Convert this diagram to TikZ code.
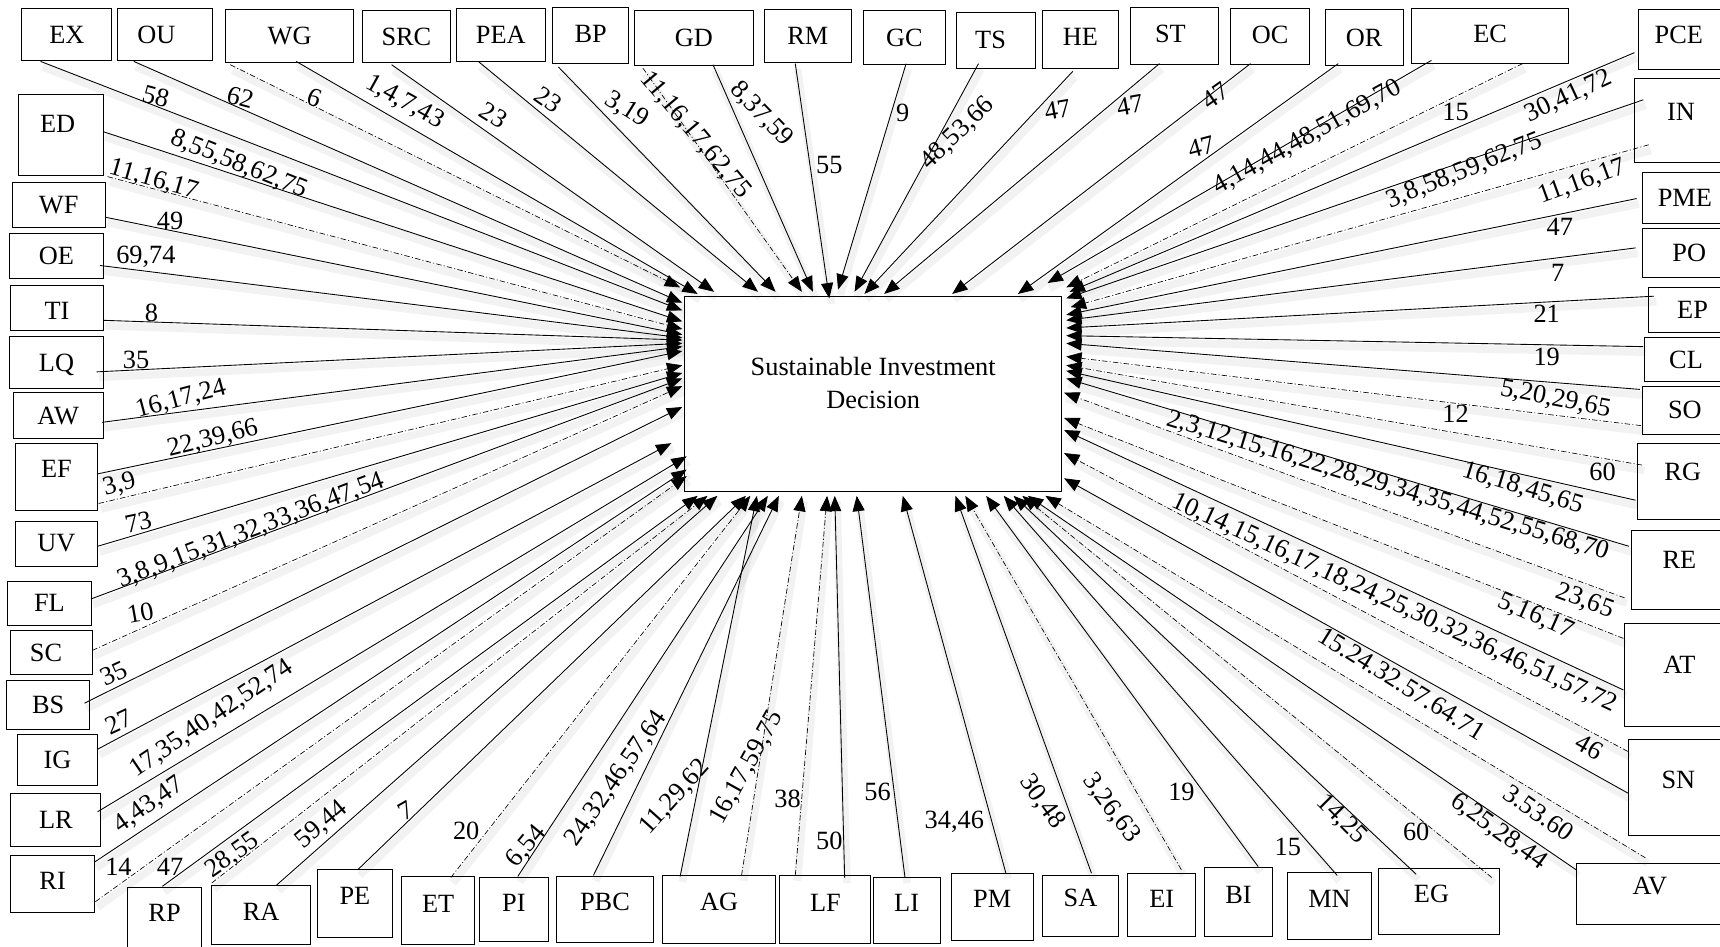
\documentclass[tikz,border=0pt]{standalone}
\usepackage{fontspec}
\setmainfont{Liberation Serif}
\usetikzlibrary{arrows.meta}

\begin{document}
\begin{tikzpicture}[x=1pt, y=-1pt, font=\fontsize{24}{30}\selectfont]
  \tikzstyle{fac}=[draw, line width=0.9pt, inner sep=0pt]
  \tikzstyle{num}=[inner sep=0pt]
  \tikzstyle{lnk}=[line width=0.8pt, -{Triangle[length=14pt, width=11pt]},
    preaction={draw, draw opacity=0.05, line width=7pt, solid, -,
      transform canvas={xshift=2pt, yshift=-5pt}}]
  \tikzstyle{dlnk}=[lnk, line width=0.6pt,
    dash pattern=on 5pt off 2pt on 1pt off 2pt]

  \useasboundingbox (0,0) rectangle (1568,863);

  % central box
  \node[fac, minimum width=344, minimum height=178, align=center,
    label={[yshift=10, align=center]center:Sustainable Investment\\Decision}]
    (SID) at (796,359) {};

  % top row
  \node[fac, minimum width=82, minimum height=47] (EX) at (61,31.5) {EX};
  \node[fac, minimum width=87, minimum height=47, label={[xshift=-8]center:OU}] (OU) at (150.5,31.5) {};
  \node[fac, minimum width=116, minimum height=48] (WG) at (264,33) {WG};
  \node[fac, minimum width=81, minimum height=47] (SRC) at (370.5,33.5) {SRC};
  \node[fac, minimum width=81, minimum height=48] (PEA) at (456.5,32) {PEA};
  \node[fac, minimum width=69, minimum height=51, label={[yshift=2]center:BP}] (BP) at (538.5,32.5) {};
  \node[fac, minimum width=109, minimum height=50] (GD) at (632.5,35) {GD};
  \node[fac, minimum width=79, minimum height=48] (RM) at (736.5,33) {RM};
  \node[fac, minimum width=75, minimum height=49] (GC) at (824.5,34.5) {GC};
  \node[fac, minimum width=72, minimum height=51, label={[xshift=-5]center:TS}] (TS) at (908,36.5) {};
  \node[fac, minimum width=70, minimum height=52, label={[yshift=2]center:HE}] (HE) at (985,36) {};
  \node[fac, minimum width=80, minimum height=52, label={[xshift=-4, yshift=2]center:ST}] (ST) at (1071,33) {};
  \node[fac, minimum width=72, minimum height=51, label={[yshift=2]center:OC}] (OC) at (1158,33.5) {};
  \node[fac, minimum width=71, minimum height=51] (OR) at (1243.5,34.5) {OR};
  \node[fac, minimum width=143, minimum height=50, label={[yshift=2]center:EC}] (EC) at (1358.5,33) {};
  \node[fac, minimum width=81, minimum height=54, label={[xshift=-4, yshift=4]center:PCE}] (PCE) at (1534.5,36) {};

  % right column
  \node[fac, minimum width=85, minimum height=76, label={[yshift=8]center:IN}] (IN) at (1532.5,110) {};
  \node[fac, minimum width=78, minimum height=47] (PME) at (1536,180.5) {PME};
  \node[fac, minimum width=78, minimum height=45, label={[xshift=4]center:PO}] (PO) at (1536,230.5) {};
  \node[fac, minimum width=72, minimum height=41, label={[xshift=4]center:EP}] (EP) at (1539,282.5) {};
  \node[fac, minimum width=76, minimum height=40] (CL) at (1537,328) {CL};
  \node[fac, minimum width=78, minimum height=44] (SO) at (1536,374) {SO};
  \node[fac, minimum width=82, minimum height=70, label={[yshift=9]center:RG}] (RG) at (1534,439) {};
  \node[fac, minimum width=88, minimum height=72, label={[yshift=10]center:RE}] (RE) at (1531,520) {};
  \node[fac, minimum width=94, minimum height=94, label={[xshift=3, yshift=9]center:AT}] (AT) at (1528,615) {};
  \node[fac, minimum width=90, minimum height=88, label={[yshift=7]center:SN}] (SN) at (1530,718) {};
  \node[fac, minimum width=138, minimum height=56, label={[xshift=-2, yshift=7]center:AV}] (AV) at (1506,815) {};

  % left column
  \node[fac, minimum width=77, minimum height=74, label={[xshift=-3, yshift=10]center:ED}] (ED) at (55.5,123) {};
  \node[fac, minimum width=85, minimum height=41] (WF) at (53.5,186.5) {WF};
  \node[fac, minimum width=85, minimum height=41] (OE) at (51.5,233.5) {OE};
  \node[fac, minimum width=84, minimum height=41, label={[yshift=-3]center:TI}] (TI) at (52,280.5) {};
  \node[fac, minimum width=85, minimum height=47, label={[yshift=-2]center:LQ}] (LQ) at (51.5,330.5) {};
  \node[fac, minimum width=82, minimum height=42] (AW) at (53,379) {AW};
  \node[fac, minimum width=75, minimum height=61, label={[yshift=7]center:EF}] (EF) at (51.5,434.5) {};
  \node[fac, minimum width=75, minimum height=41] (UV) at (51.5,495.5) {UV};
  \node[fac, minimum width=76, minimum height=40] (FL) at (45,550) {FL};
  \node[fac, minimum width=74, minimum height=40, label={[xshift=-5]center:SC}] (SC) at (47,595) {};
  \node[fac, minimum width=76, minimum height=45] (BS) at (44,642.5) {BS};
  \node[fac, minimum width=73, minimum height=46] (IG) at (52.5,693) {IG};
  \node[fac, minimum width=82, minimum height=49] (LR) at (51,747.5) {LR};
  \node[fac, minimum width=76, minimum height=52, label={[yshift=3]center:RI}] (RI) at (48,806) {};

  % bottom row
  \node[fac, minimum width=68, minimum height=66, label={[yshift=10]center:RP}] (RP) at (150,842) {};
  \node[fac, minimum width=90, minimum height=54, label={[yshift=3]center:RA}] (RA) at (238,834) {};
  \node[fac, minimum width=69, minimum height=62, label={[yshift=7]center:PE}] (PE) at (323.5,824) {};
  \node[fac, minimum width=67, minimum height=62, label={[yshift=6]center:ET}] (ET) at (399.5,830) {};
  \node[fac, minimum width=63, minimum height=58, label={[yshift=6]center:PI}] (PI) at (468.5,829) {};
  \node[fac, minimum width=89, minimum height=60, label={[yshift=7]center:PBC}] (PBC) at (551.5,829) {};
  \node[fac, minimum width=103, minimum height=62, label={[yshift=7]center:AG}] (AG) at (655.5,829) {};
  \node[fac, minimum width=83, minimum height=62, label={[yshift=6]center:LF}] (LF) at (752.5,829) {};
  \node[fac, minimum width=61, minimum height=60, label={[yshift=7]center:LI}] (LI) at (826.5,830) {};
  \node[fac, minimum width=75, minimum height=61, label={[yshift=7]center:PM}] (PM) at (904.5,826.5) {};
  \node[fac, minimum width=70, minimum height=56, label={[yshift=7]center:SA}] (SA) at (985,826) {};
  \node[fac, minimum width=62, minimum height=58, label={[yshift=6]center:EI}] (EI) at (1059,825) {};
  \node[fac, minimum width=62, minimum height=63, label={[yshift=7]center:BI}] (BI) at (1129,822.5) {};
  \node[fac, minimum width=76, minimum height=61, label={[yshift=6]center:MN}] (MN) at (1212,825.5) {};
  \node[fac, minimum width=110, minimum height=60, label={[xshift=-7, yshift=7]center:EG}] (EG) at (1312,822) {};

  % links from the top row
  \coordinate (ex-o) at (37,56);     \coordinate (ex-i) at (622,283);   \draw[lnk]  (ex-o) -- (ex-i);
  \coordinate (ou-o) at (122,56);    \coordinate (ou-i) at (622,276);   \draw[lnk]  (ou-o) -- (ou-i);
  \coordinate (wg1-o) at (210,59);   \coordinate (wg1-i) at (620,262);  \draw[dlnk] (wg1-o) -- (wg1-i);
  \coordinate (wg2-o) at (270,56);   \coordinate (wg2-i) at (636,268);  \draw[lnk]  (wg2-o) -- (wg2-i);
  \coordinate (src-o) at (357,59);   \coordinate (src-i) at (651,266);  \draw[lnk]  (src-o) -- (src-i);
  \coordinate (pea-o) at (436,56);   \coordinate (pea-i) at (691,266);  \draw[lnk]  (pea-o) -- (pea-i);
  \coordinate (bp-o) at (509,61);    \coordinate (bp-i) at (707,266);   \draw[lnk]  (bp-o) -- (bp-i);
  \coordinate (gd1-o) at (586,62);   \coordinate (gd1-i) at (731,266);  \draw[dlnk] (gd1-o) -- (gd1-i);
  \coordinate (gd2-o) at (650,59);   \coordinate (gd2-i) at (741,266);  \draw[lnk]  (gd2-o) -- (gd2-i);
  \coordinate (rm-o) at (725,58);    \coordinate (rm-i) at (756,272);   \draw[lnk]  (rm-o) -- (rm-i);
  \coordinate (gc-o) at (826,58);    \coordinate (gc-i) at (764,264);   \draw[lnk]  (gc-o) -- (gc-i);
  \coordinate (ts-o) at (892,58);    \coordinate (ts-i) at (779,266);   \draw[lnk]  (ts-o) -- (ts-i);
  \coordinate (he-o) at (978,65);    \coordinate (he-i) at (788,268);   \draw[lnk]  (he-o) -- (he-i);
  \coordinate (st-o) at (1057,58);   \coordinate (st-i) at (806,268);   \draw[lnk]  (st-o) -- (st-i);
  \coordinate (oc-o) at (1140,58);   \coordinate (oc-i) at (868,268);   \draw[lnk]  (oc-o) -- (oc-i);
  \coordinate (or-o) at (1220,58);   \coordinate (or-i) at (928,268);   \draw[lnk]  (or-o) -- (or-i);
  \coordinate (ec1-o) at (1305,55);  \coordinate (ec1-i) at (955,258);  \draw[lnk]  (ec1-o) -- (ec1-i);
  \coordinate (ec2-o) at (1388,58);  \coordinate (ec2-i) at (972,262);  \draw[dlnk] (ec2-o) -- (ec2-i);
  \coordinate (pce-o) at (1490,48);  \coordinate (pce-i) at (975,266);  \draw[lnk]  (pce-o) -- (pce-i);

  % links from the right column
  \coordinate (in1-o) at (1498,91);  \coordinate (in1-i) at (972,272);  \draw[lnk]  (in1-o) -- (in1-i);
  \coordinate (in2-o) at (1503,132); \coordinate (in2-i) at (976,280);  \draw[dlnk] (in2-o) -- (in2-i);
  \coordinate (pme-o) at (1492,181); \coordinate (pme-i) at (972,287);  \draw[lnk]  (pme-o) -- (pme-i);
  \coordinate (po-o) at (1491,226);  \coordinate (po-i) at (972,292);   \draw[lnk]  (po-o) -- (po-i);
  \coordinate (ep-o) at (1508,270);  \coordinate (ep-i) at (972,299);   \draw[lnk]  (ep-o) -- (ep-i);
  \coordinate (cl-o) at (1498,316);  \coordinate (cl-i) at (972,306);   \draw[lnk]  (cl-o) -- (cl-i);
  \coordinate (so1-o) at (1495,355); \coordinate (so1-i) at (972,313);  \draw[lnk]  (so1-o) -- (so1-i);
  \coordinate (so2-o) at (1496,388); \coordinate (so2-i) at (972,325);  \draw[dlnk] (so2-o) -- (so2-i);
  \coordinate (rg1-o) at (1497,424); \coordinate (rg1-i) at (972,333);  \draw[dlnk] (rg1-o) -- (rg1-i);
  \coordinate (rg2-o) at (1491,456); \coordinate (rg2-i) at (972,338);  \draw[lnk]  (rg2-o) -- (rg2-i);
  \coordinate (re1-o) at (1485,498); \coordinate (re1-i) at (972,345);  \draw[lnk]  (re1-o) -- (re1-i);
  \coordinate (re2-o) at (1481,545); \coordinate (re2-i) at (970,358);  \draw[dlnk] (re2-o) -- (re2-i);
  \coordinate (at1-o) at (1480,582); \coordinate (at1-i) at (970,381);  \draw[dlnk] (at1-o) -- (at1-i);
  \coordinate (at2-o) at (1480,629); \coordinate (at2-i) at (970,392);  \draw[lnk]  (at2-o) -- (at2-i);
  \coordinate (sn1-o) at (1484,685); \coordinate (sn1-i) at (970,413);  \draw[dlnk] (sn1-o) -- (sn1-i);
  \coordinate (sn2-o) at (1484,723); \coordinate (sn2-i) at (970,436);  \draw[lnk]  (sn2-o) -- (sn2-i);
  \coordinate (av1-o) at (1500,782); \coordinate (av1-i) at (953,452);  \draw[dlnk] (av1-o) -- (av1-i);
  \coordinate (av2-o) at (1437,793); \coordinate (av2-i) at (937,452);  \draw[lnk]  (av2-o) -- (av2-i);

  % links from the bottom row
  \coordinate (eg1-o) at (1360,800); \coordinate (eg1-i) at (932,452);  \draw[dlnk] (eg1-o) -- (eg1-i);
  \coordinate (eg2-o) at (1291,797); \coordinate (eg2-i) at (924,452);  \draw[lnk]  (eg2-o) -- (eg2-i);
  \coordinate (mn-o) at (1219,798);  \coordinate (mn-i) at (915,452);   \draw[lnk]  (mn-o) -- (mn-i);
  \coordinate (bi-o) at (1147,790);  \coordinate (bi-i) at (899,452);   \draw[lnk]  (bi-o) -- (bi-i);
  \coordinate (ei-o) at (1077,793);  \coordinate (ei-i) at (880,452);   \draw[dlnk] (ei-o) -- (ei-i);
  \coordinate (sa-o) at (995,796);   \coordinate (sa-i) at (871,452);   \draw[lnk]  (sa-o) -- (sa-i);
  \coordinate (pm-o) at (917,796);   \coordinate (pm-i) at (823,452);   \draw[lnk]  (pm-o) -- (pm-i);
  \coordinate (li-o) at (825,800);   \coordinate (li-i) at (781,452);   \draw[lnk]  (li-o) -- (li-i);
  \coordinate (lf1-o) at (770,800);  \coordinate (lf1-i) at (761,452);  \draw[lnk]  (lf1-o) -- (lf1-i);
  \coordinate (lf2-o) at (725,798);  \coordinate (lf2-i) at (754,452);  \draw[dlnk] (lf2-o) -- (lf2-i);
  \coordinate (ag1-o) at (676,798);  \coordinate (ag1-i) at (731,452);  \draw[dlnk] (ag1-o) -- (ag1-i);
  \coordinate (ag2-o) at (620,799);  \coordinate (ag2-i) at (690,452);  \draw[lnk]  (ag2-o) -- (ag2-i);
  \coordinate (pbc-o) at (541,798);  \coordinate (pbc-i) at (710,452);  \draw[lnk]  (pbc-o) -- (pbc-i);
  \coordinate (pi-o) at (472,799);   \coordinate (pi-i) at (700,452);   \draw[lnk]  (pi-o) -- (pi-i);
  \coordinate (et-o) at (411,800);   \coordinate (et-i) at (684,452);   \draw[dlnk] (et-o) -- (et-i);
  \coordinate (pe-o) at (326,793);   \coordinate (pe-i) at (680,452);   \draw[lnk]  (pe-o) -- (pe-i);
  \coordinate (ra1-o) at (252,807);  \coordinate (ra1-i) at (654,452);  \draw[lnk]  (ra1-o) -- (ra1-i);
  \coordinate (ra2-o) at (193,805);  \coordinate (ra2-i) at (645,452);  \draw[dlnk] (ra2-o) -- (ra2-i);
  \coordinate (rp-o) at (148,808);   \coordinate (rp-i) at (636,452);   \draw[lnk]  (rp-o) -- (rp-i);

  % links from the left column
  \coordinate (ri1-o) at (87,822);   \coordinate (ri1-i) at (626,434);  \draw[dlnk] (ri1-o) -- (ri1-i);
  \coordinate (ri2-o) at (86,786);   \coordinate (ri2-i) at (626,428);  \draw[lnk]  (ri2-o) -- (ri2-i);
  \coordinate (lr-o) at (89,740);    \coordinate (lr-i) at (626,416);   \draw[lnk]  (lr-o) -- (lr-i);
  \coordinate (ig-o) at (89,683);    \coordinate (ig-i) at (612,404);   \draw[lnk]  (ig-o) -- (ig-i);
  \coordinate (bs-o) at (77,641);    \coordinate (bs-i) at (622,371);   \draw[lnk]  (bs-o) -- (bs-i);
  \coordinate (sc-o) at (84,593);    \coordinate (sc-i) at (622,352);   \draw[dlnk] (sc-o) -- (sc-i);
  \coordinate (fl-o) at (83,546);    \coordinate (fl-i) at (622,345);   \draw[lnk]  (fl-o) -- (fl-i);
  \coordinate (uv-o) at (89,498);    \coordinate (uv-i) at (622,340);   \draw[lnk]  (uv-o) -- (uv-i);
  \coordinate (ef1-o) at (90,459);   \coordinate (ef1-i) at (622,333);  \draw[dlnk] (ef1-o) -- (ef1-i);
  \coordinate (ef2-o) at (89,432);   \coordinate (ef2-i) at (622,320);  \draw[lnk]  (ef2-o) -- (ef2-i);
  \coordinate (aw-o) at (93,385);    \coordinate (aw-i) at (622,316);   \draw[lnk]  (aw-o) -- (aw-i);
  \coordinate (lq-o) at (88,339);    \coordinate (lq-i) at (622,313);   \draw[lnk]  (lq-o) -- (lq-i);
  \coordinate (ti-o) at (94,292);    \coordinate (ti-i) at (622,310);   \draw[lnk]  (ti-o) -- (ti-i);
  \coordinate (oe-o) at (91,242);    \coordinate (oe-i) at (622,308);   \draw[lnk]  (oe-o) -- (oe-i);
  \coordinate (wf-o) at (96,198);    \coordinate (wf-i) at (622,305);   \draw[lnk]  (wf-o) -- (wf-i);
  \coordinate (ed1-o) at (98,161);   \coordinate (ed1-i) at (622,300);  \draw[dlnk] (ed1-o) -- (ed1-i);
  \coordinate (ed2-o) at (94,120);   \coordinate (ed2-i) at (622,293);  \draw[lnk]  (ed2-o) -- (ed2-i);

  % numbers on the links
  \node[num, rotate=-15] (n-ex) at (142,88) {58};
  \node[num, rotate=-15] (n-ou) at (219,89) {62};
  \node[num, rotate=-20] (n-wg1) at (287,89) {6};
  \node[num, rotate=-29] (n-wg2) at (369,93) {1,4,7,43};
  \node[num, rotate=-32] (n-src) at (450,105) {23};
  \node[num, rotate=-35] (n-pea) at (500,91) {23};
  \node[num, rotate=-32] (n-bp) at (571,100) {3,19};
  \node[num, rotate=-50] (n-gd1) at (634,123) {11,16,17,62,75};
  \node[num, rotate=-46] (n-gd2) at (694,104) {8,37,59};
  \node[num] (n-rm) at (756,150) {55};
  \node[num] (n-gc) at (823,103) {9};
  \node[num, rotate=44] (n-ts) at (873,122) {48,53,66};
  \node[num, rotate=10] (n-he) at (964,100) {47};
  \node[num, rotate=10] (n-st) at (1030,96) {47};
  \node[num, rotate=35] (n-oc) at (1108,87) {47};
  \node[num, rotate=15] (n-or) at (1095,134) {47};
  \node[num, rotate=29] (n-ec1) at (1192,125) {4,14,44,48,51,69,70};
  \node[num] (n-ec2) at (1327,102) {15};
  \node[num, rotate=25] (n-pce) at (1430,88) {30,41,72};
  \node[num, rotate=22] (n-in1) at (1335,156) {3,8,58,59,62,75};
  \node[num, rotate=20] (n-in2) at (1442,166) {11,16,17};
  \node[num] (n-pme) at (1422,207) {47};
  \node[num] (n-po) at (1420,249) {7};
  \node[num] (n-ep) at (1410,286) {21};
  \node[num] (n-cl) at (1410,325) {19};
  \node[num, rotate=-11] (n-so1) at (1418,364) {5,20,29,65};
  \node[num] (n-so2) at (1327,377) {12};
  \node[num] (n-rg1) at (1461,430) {60};
  \node[num, rotate=-17] (n-rg2) at (1388,445) {16,18,45,65};
  \node[num, rotate=-17] (n-re1) at (1265,443) {2,3,12,15,16,22,28,29,34,35,44,52,55,68,70};
  \node[num, rotate=-20] (n-re2) at (1445,548) {23,65};
  \node[num, rotate=-24] (n-at1) at (1400,562) {5,16,17};
  \node[num, rotate=-25] (n-at2) at (1271,550) {10,14,15,16,17,18,24,25,30,32,36,46,51,57,72};
  \node[num, rotate=-30] (n-sn1) at (1449,681) {46};
  \node[num, rotate=-32] (n-sn2) at (1278,623) {15.24.32.57.64.71};
  \node[num, rotate=-35] (n-av1) at (1403,741) {3.53.60};
  \node[num, rotate=-36] (n-av2) at (1366,758) {6,25,28,44};
  \node[num] (n-eg1) at (1291,758) {60};
  \node[num, rotate=-45] (n-eg2) at (1223,747) {14,25};
  \node[num] (n-mn) at (1174,772) {15};
  \node[num] (n-bi) at (1077,722) {19};
  \node[num, rotate=-53] (n-ei) at (1013,737) {3,26,63};
  \node[num, rotate=-54] (n-sa) at (950,731) {30,48};
  \node[num] (n-pm) at (870,749) {34,46};
  \node[num] (n-li) at (800,722) {56};
  \node[num] (n-lf1) at (756,767) {50};
  \node[num] (n-lf2) at (718,728) {38};
  \node[num, rotate=61] (n-ag1) at (681,700) {16,17,59,75};
  \node[num, rotate=48] (n-ag2) at (615,727) {11,29,62};
  \node[num, rotate=55] (n-pbc) at (562,710) {24,32,46,57,64};
  \node[num, rotate=50] (n-pi) at (480,772) {6,54};
  \node[num] (n-et) at (425,757) {20};
  \node[num, rotate=30] (n-pe) at (370,739) {7};
  \node[num, rotate=40] (n-ra1) at (293,752) {59,44};
  \node[num, rotate=35] (n-ra2) at (212,780) {28,55};
  \node[num] (n-rp) at (155,790) {47};
  \node[num] (n-ri1) at (108,790) {14};
  \node[num, rotate=35] (n-ri2) at (136,734) {4,43,47};
  \node[num, rotate=34] (n-lr) at (193,655) {17,35,40,42,52,74};
  \node[num, rotate=25] (n-ig) at (108,658) {27};
  \node[num, rotate=25] (n-bs) at (104,614) {35};
  \node[num, rotate=10] (n-sc) at (128,559) {10};
  \node[num, rotate=21] (n-fl) at (229,484) {3,8,9,15,31,32,33,36,47,54};
  \node[num, rotate=12] (n-uv) at (126,476) {73};
  \node[num, rotate=15] (n-ef1) at (109,442) {3,9};
  \node[num, rotate=14] (n-ef2) at (194,400) {22,39,66};
  \node[num, rotate=15] (n-aw) at (165,364) {16,17,24};
  \node[num] (n-lq) at (124,328) {35};
  \node[num] (n-ti) at (138,285) {8};
  \node[num] (n-oe) at (133,234) {69,74};
  \node[num] (n-wf) at (155,201) {49};
  \node[num, rotate=-16] (n-ed1) at (140,164) {11,16,17};
  \node[num, rotate=-22] (n-ed2) at (218,150) {8,55,58,62,75};
\end{tikzpicture}
\end{document}
